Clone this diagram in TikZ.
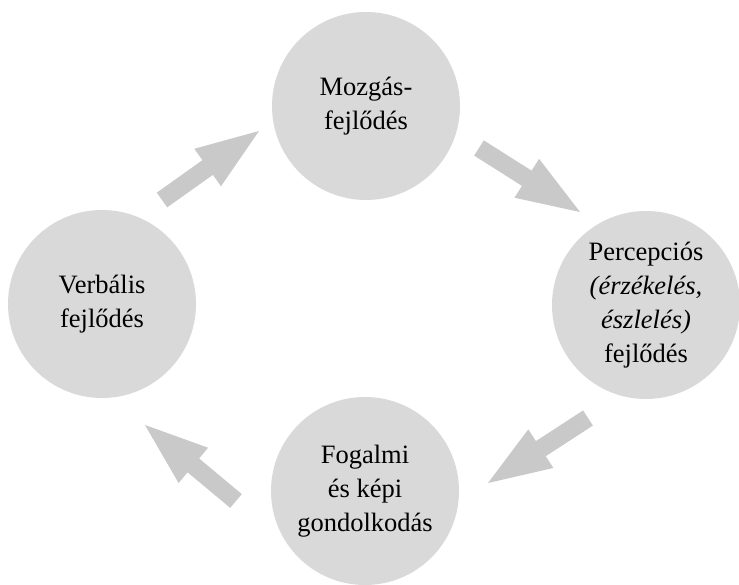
\documentclass[tikz,border=0pt]{standalone}
\usepackage{fontspec}
\setmainfont{Liberation Serif}
\usetikzlibrary{calc}

\definecolor{circlegray}{HTML}{D9D9D9}
\definecolor{arrowgray}{HTML}{C9C9C9}

\tikzset{
  stage/.style={circle, fill=circlegray, minimum size=188pt, inner sep=0pt,
    align=center, font=\fontsize{26.5}{34}\selectfont},
  blockarrow/.style={fill=arrowgray}
}

% block arrow from #1 (tail centre) to #2 (tip)
\newcommand\blockarrow[2]{%
  \coordinate (hb) at ($(#2)!63pt!(#1)$);
  \fill[blockarrow] ($(#1)!9pt!90:(#2)$) -- ($(hb)!9pt!90:(#2)$)
    -- ($(hb)!23pt!90:(#2)$) -- (#2) -- ($(hb)!23pt!-90:(#2)$)
    -- ($(hb)!9pt!-90:(#2)$) -- ($(#1)!9pt!-90:(#2)$) -- cycle;
}

\begin{document}
\begin{tikzpicture}[x=1pt,y=1pt]
\useasboundingbox (0,0) rectangle (739,584);
\fill[white] (0,0) rectangle (739,584);

\node[stage] (motor)   at (366,478) {Mozgás-\\fejlődés};
\node[stage] (percept) at (646,279) {Percepciós\\\textit{(érzékelés,}\\\textit{észlelés)}\\fejlődés};
\node[stage] (concept) at (365,93)  {Fogalmi\\és képi\\gondolkodás};
\node[stage] (verbal)  at (102,280) {Verbális\\fejlődés};

\coordinate (a1s) at (162,384); \coordinate (a1e) at (259,453);
\coordinate (a2s) at (479,436); \coordinate (a2e) at (580,372);
\coordinate (a3s) at (588,166); \coordinate (a3e) at (488,101);
\coordinate (a4s) at (236,83);  \coordinate (a4e) at (145,159);

\blockarrow{a1s}{a1e}
\blockarrow{a2s}{a2e}
\blockarrow{a3s}{a3e}
\blockarrow{a4s}{a4e}
\end{tikzpicture}
\end{document}
